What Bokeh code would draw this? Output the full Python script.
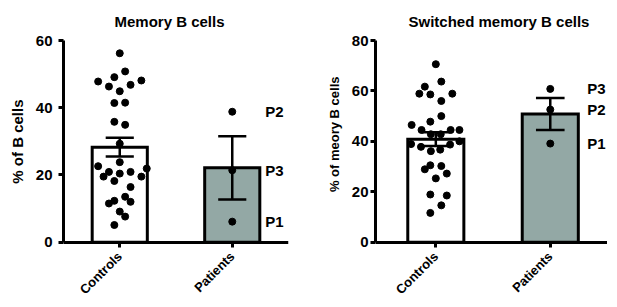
import numpy as np
from math import pi
from bokeh.plotting import figure
from bokeh.layouts import row
from bokeh.models import Range1d, FixedTicker, Title
from bokeh.core.properties import value
from bokeh.embed import file_html
from bokeh.resources import INLINE

# ---------------- data ----------------
groups = ["Controls", "Patients"]
group_x = [0, 1]
patient_labels = ["P1", "P2", "P3"]

# Memory B cells (% of B cells)
mem_controls = [56.2, 50.8, 49.1, 47.8, 48.1, 46.3, 46.8, 44.9, 41.4, 41.5,
                35.8, 34.9, 29.3, 22.6, 23.8, 21.9, 20.9, 19.5, 20.4, 20.9,
                18.2, 19.5, 16.4, 11.5, 12.3, 13.5, 12.0, 9.1, 7.6, 5.1]
# horizontal slot of each control dot (in dot widths, scatter-plot layout)
mem_controls_slot = [0, 1, -1, -4, 4, -2, 2, 0, -1, 1,
                     -1, 1, 0, -4, 0, 5, -2, -3, 0, 2,
                     -1, 4, 2, -2, -1, 1, 2, 0, 1, -1]
mem_patients = [6.1, 38.8, 21.4]          # P1, P2, P3
mem_ticks = [0, 20, 40, 60]

# Switched memory B cells (% of memory B cells)
sw_controls = [70.6, 63.7, 61.7, 58.9, 58.6, 58.9, 56.0, 50.0, 47.8, 46.5,
               44.5, 44.5, 44.5, 42.8, 42.8, 38.9, 37.8, 36.1, 36.7, 38.7,
               40.0, 30.5, 30.2, 28.9, 27.2, 25.3, 18.9, 18.5, 14.6, 11.6]
sw_controls_slot = [0, 1, -2, -3, -1, 3, 1, 1, -1, -4.4,
                    -2.6, 2.7, 4.3, -0.9, 0.9, -4.5, -2.7, -0.9, 0.8, 2.6,
                    4.3, -1, 1, -2, 2, 0, -1, 2, 1, -1]
sw_patients = [39.1, 52.6, 60.8]          # P1, P2, P3
sw_ticks = [0, 20, 40, 60, 80]

FONT = "Liberation Sans"
PATIENT_FILL = "#93a8a5"
HEIGHT = 297
TOP = 37
AXIS_PX = 204          # pixel length of the value axis


def panel(title, ylabel, ctrl, ctrl_slot, pats, ticks, width, b_left, b_right,
          x_start, x_end, label_dx, tick_standoff, title_offset,
          ylabel_size, ylabel_offset):
    ymax = ticks[-1]
    frame_h = HEIGHT - TOP
    y_start = -ymax * (frame_h - AXIS_PX) / AXIS_PX   # room below 0 for category labels
    p = figure(width=width, height=HEIGHT, output_backend="svg", toolbar_location=None,
               x_range=Range1d(x_start, x_end), y_range=Range1d(y_start, ymax),
               min_border_left=b_left, min_border_right=b_right,
               min_border_top=TOP, min_border_bottom=0,
               background_fill_color="white", border_fill_color="white")
    p.outline_line_color = None
    p.grid.visible = False

    p.title.text = title
    p.title.align = "left"
    p.title.offset = title_offset
    p.title.text_font = FONT
    p.title.text_font_size = "15px"
    p.title.text_font_style = "bold"
    p.title.text_color = "black"
    p.title.standoff = 21

    # value-axis label, placed along the 0..max part of the axis
    p.add_layout(Title(text=ylabel, align="right", offset=ylabel_offset,
                       standoff=13, text_font=FONT, text_font_size=ylabel_size,
                       text_font_style="bold", text_color="black"), "left")

    ctrl = np.array(ctrl)
    pats = np.array(pats)
    means = np.array([ctrl.mean(), pats.mean()])
    sems = np.array([ctrl.std(ddof=1) / np.sqrt(len(ctrl)),
                     pats.std(ddof=1) / np.sqrt(len(pats))])
    gx = np.array(group_x, dtype=float)

    p.vbar(x=gx, top=means, bottom=0, width=0.49,
           fill_color=["white", PATIENT_FILL], line_color="black",
           line_width=3, line_join="miter")

    p.segment(x0=gx, y0=means - sems, x1=gx, y1=means + sems,
              line_color="black", line_width=2.5)
    cap = 0.125
    for s in (-1, 1):
        p.segment(x0=gx - cap, y0=means + s * sems, x1=gx + cap, y1=means + s * sems,
                  line_color="black", line_width=2.5)

    step = 0.048
    cx = gx[0] + np.array(ctrl_slot) * step
    p.scatter(x=cx, y=ctrl, size=7, color="black")
    px = np.full(len(pats), gx[1])
    p.scatter(x=px, y=pats, size=7, color="black")

    p.text(x=px, y=pats, text=patient_labels, x_offset=label_dx,
           text_font=value(FONT), text_font_style="bold", text_font_size="15px",
           text_baseline="middle", text_align="left", text_color="black")

    # axes
    p.xaxis.fixed_location = 0
    p.xaxis.ticker = FixedTicker(ticks=group_x)
    p.xaxis.major_label_overrides = {g: name for g, name in zip(group_x, groups)}
    p.xaxis.major_label_orientation = pi / 4
    p.xaxis.major_label_standoff = 7
    p.yaxis.bounds = (0, ymax)
    p.yaxis.ticker = FixedTicker(ticks=ticks)
    p.yaxis.major_label_standoff = tick_standoff
    for ax in (p.xaxis, p.yaxis):
        ax.axis_line_width = 3
        ax.axis_line_color = "black"
        ax.major_tick_line_width = 3
        ax.major_tick_line_color = "black"
        ax.major_tick_out = 5
        ax.major_tick_in = 0
        ax.minor_tick_line_color = None
        ax.major_label_text_font = FONT
        ax.major_label_text_font_style = "bold"
        ax.major_label_text_font_size = "15px"
        ax.major_label_text_color = "black"
    p.xaxis.major_label_text_font_size = "13px"
    return p


p1 = panel("Memory B cells", "% of B cells", mem_controls, mem_controls_slot,
           mem_patients, mem_ticks, width=305, b_left=58, b_right=17,
           x_start=-0.5, x_end=1.5, label_dx=33, tick_standoff=6, title_offset=51,
           ylabel_size="15px", ylabel_offset=59)
p2 = panel("Switched memory B cells", "% of meory B cells", sw_controls, sw_controls_slot,
           sw_patients, sw_ticks, width=302, b_left=70, b_right=0,
           x_start=-0.527, x_end=1.5, label_dx=37, tick_standoff=2, title_offset=33,
           ylabel_size="13px", ylabel_offset=36)

layout = row(p1, p2)
open("out.html", "w").write(file_html(layout, INLINE))
